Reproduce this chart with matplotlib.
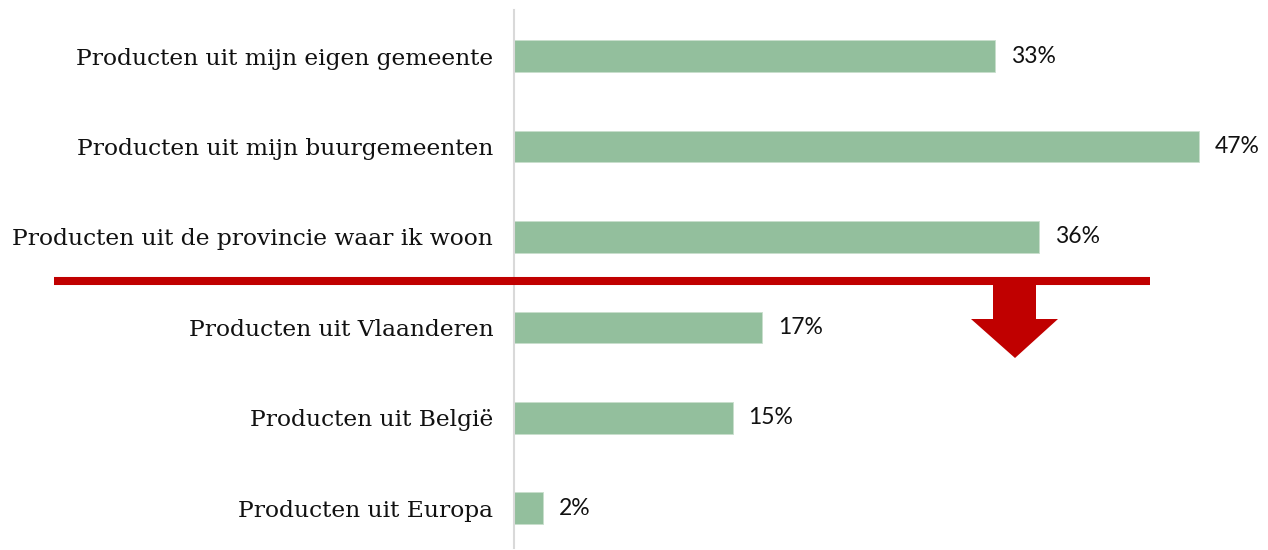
"""
Horizontal bar chart: herkomst van producten, with red cut-off line and arrow.
"""
import matplotlib
matplotlib.use('Agg')
import matplotlib.pyplot as plt
from matplotlib.lines import Line2D
from matplotlib.patches import Polygon

# Data
categories = [
    'Producten uit mijn eigen gemeente',
    'Producten uit mijn buurgemeenten',
    'Producten uit de provincie waar ik woon',
    'Producten uit Vlaanderen',
    'Producten uit België',
    'Producten uit Europa',
]
values = [33, 47, 36, 17, 15, 2]

BAR_COLOR = '#93bf9d'
RED = '#c00000'
W, H = 1268, 550

fig = plt.figure(figsize=(W / 100, H / 100), dpi=100)
ax = fig.add_axes([514 / W, (H - 548) / H, (W - 514) / W, 538 / H])

ypos = list(range(len(categories)))
ax.barh(ypos, values, height=0.35, color=BAR_COLOR, edgecolor='#c8dfcc', linewidth=0.6)

xmax = (W - 514) / 14.57
ax.set_xlim(0, xmax)
ax.set_ylim(5.44, -0.51)

for y, v in zip(ypos, values):
    ax.text(v + 16 / 14.57, y, f'{v}%', va='center', ha='left',
            fontsize=16.5, family='Lato', color='#111111')

ax.set_yticks(ypos)
ax.set_yticklabels(categories, fontsize=16.8, family='DejaVu Serif', color='#111111')
ax.tick_params(axis='y', length=0, pad=15)
ax.set_xticks([])
for side in ['top', 'right', 'bottom']:
    ax.spines[side].set_visible(False)
ax.spines['left'].set_color('#d9d9d9')
ax.spines['left'].set_linewidth(1.5)

# red cut-off line (figure pixel coords, y measured from top)
def fx(px):
    return px / W

def fy(py):
    return 1 - py / H

fig.add_artist(Line2D([fx(54), fx(1150)], [fy(281), fy(281)], color=RED,
                      linewidth=5.8, solid_capstyle='butt'))
arrow = Polygon([
    (fx(993), fy(284)), (fx(1036), fy(284)), (fx(1036), fy(319)),
    (fx(1058), fy(319)), (fx(1015), fy(358)), (fx(971), fy(319)),
    (fx(993), fy(319)),
], closed=True, facecolor=RED, edgecolor='none', transform=fig.transFigure)
fig.add_artist(arrow)

fig.savefig('out.png', dpi=100, facecolor='white')
